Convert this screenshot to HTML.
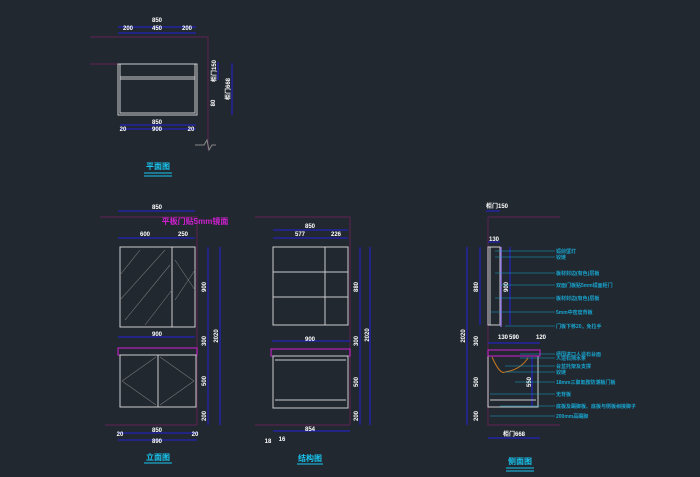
<!DOCTYPE html>
<html><head><meta charset="utf-8"><style>
html,body{margin:0;padding:0;background:#212830;}
svg{display:block}
text{font-family:"Liberation Sans","Noto Sans CJK SC",sans-serif;font-weight:bold;}
</style></head><body>
<svg width="700" height="477" viewBox="0 0 700 477" xmlns="http://www.w3.org/2000/svg">
<rect width="700" height="477" fill="#212830"/>
<g fill="#fff" font-size="6" text-anchor="middle">
<!-- PLAN -->
<g stroke="#4e2448" stroke-width="1.4" fill="none">
<path d="M90 37H208V150"/><path d="M90 64H118"/>
</g>
<g stroke="#2222dd" stroke-width="1" fill="none">
<path d="M118 27H196M118 33H196M120 125H196M120 129H196M232 63V115M218 62V80"/>
</g>
<text x="157" y="22">850</text><text x="128" y="30">200</text><text x="157" y="30">450</text><text x="187" y="30">200</text>
<g stroke="#ccc" stroke-width="1" fill="none">
<rect x="118" y="64" width="79" height="51"/><rect x="120" y="64" width="75" height="49"/>
<path d="M120 77H195M120 79H195"/>
</g>
<text x="157" y="124">850</text><text x="157" y="131">900</text>
<text x="123" y="131">20</text><text x="191" y="131">20</text>
<text x="0" y="0" transform="translate(216 71) rotate(-90)">柜门150</text>
<text x="0" y="0" transform="translate(230 89) rotate(-90)">柜门668</text>
<text x="0" y="0" transform="translate(215 103) rotate(-90)">80</text>
<path d="M195 145H204L207 140L209 150L212 145H216" stroke="#888" fill="none"/>
<text x="158" y="169" fill="#19c6f0" font-size="8">平面图</text>
<path d="M144 173H172M144 176H172" stroke="#19c6f0"/>

<!-- FRONT -->
<g stroke="#4e2448" stroke-width="1.4" fill="none"><path d="M100 217H197V425M105 425H197"/></g>
<g stroke="#2222dd" fill="none">
<path d="M118 211H195M118 238H195M118 337H195M208 247V425M220 247V425M118 433H197M118 440H197"/>
</g>
<text x="157" y="209">850</text><text x="145" y="236">600</text><text x="183" y="236">250</text>
<text x="195" y="224" fill="#d020d0" font-size="8">平板门贴5mm镜面</text>
<g stroke="#ccc" fill="none"><rect x="120" y="247" width="75" height="80"/><path d="M172 247V327"/></g>
<g stroke="#777" stroke-width=".6"><path d="M120 275L140 250M120 300L165 250M125 320L170 265M145 325L172 290M175 260L195 290M175 300L195 270"/></g>
<text x="157" y="336">900</text>
<rect x="118" y="348" width="79" height="7" fill="none" stroke="#d020d0"/>
<g stroke="#ccc" fill="none"><rect x="120" y="355" width="76" height="52"/><path d="M158 355V407"/></g>
<g stroke="#777" stroke-width=".6" fill="none"><path d="M122 381L156 357M122 381L156 405M194 381L160 357M194 381L160 405"/></g>
<text transform="translate(206 287) rotate(-90)">900</text>
<text transform="translate(206 341) rotate(-90)">300</text>
<text transform="translate(206 381) rotate(-90)">500</text>
<text transform="translate(206 416) rotate(-90)">200</text>
<text transform="translate(218 336) rotate(-90)">2020</text>
<text x="157" y="432">850</text><text x="157" y="443">890</text>
<text x="120" y="436">20</text><text x="195" y="436">20</text>
<text x="158" y="460" fill="#19c6f0" font-size="8">立面图</text>

<!-- STRUCTURE -->
<g stroke="#4e2448" stroke-width="1.4" fill="none"><path d="M255 217H350V425M255 425H350"/></g>
<g stroke="#2222dd" fill="none"><path d="M273 230H348M273 238H348M272 341H350M360 247V425M370 247V425M273 431H350"/></g>
<text x="310" y="228">850</text><text x="300" y="236">577</text><text x="336" y="236">226</text>
<g stroke="#ccc" fill="none"><rect x="273" y="247" width="75" height="78"/><path d="M325 247V325M273 272H348M273 297H348"/></g>
<text x="310" y="341">900</text>
<rect x="271" y="349" width="79" height="7" fill="none" stroke="#d020d0"/>
<g stroke="#ccc" fill="none"><rect x="273" y="356" width="75" height="52"/><path d="M275 400H346M275 360H346"/></g>
<text transform="translate(358 287) rotate(-90)">880</text>
<text transform="translate(358 341) rotate(-90)">300</text>
<text transform="translate(358 382) rotate(-90)">500</text>
<text transform="translate(358 416) rotate(-90)">200</text>
<text transform="translate(369 335) rotate(-90)">2020</text>
<text x="310" y="431">854</text><text x="268" y="443">18</text><text x="282" y="441">16</text>
<text x="310" y="461" fill="#19c6f0" font-size="8">结构图</text>

<!-- SIDE -->
<g stroke="#4e2448" stroke-width="1.4" fill="none"><path d="M488 217H560M488 217V425H560"/></g>
<g stroke="#2222dd" fill="none"><path d="M486 211H500M488 242H500M480 247V325M510 247V325M467 247V425M488 343H540M532 357V407M488 438H540"/></g>
<text x="497" y="208">柜门150</text><text x="494" y="241">130</text>
<text transform="translate(478 287) rotate(-90)">880</text>
<text transform="translate(508 287) rotate(-90)">900</text>
<text transform="translate(478 341) rotate(-90)">300</text>
<text transform="translate(478 382) rotate(-90)">500</text>
<text transform="translate(478 416) rotate(-90)">200</text>
<text transform="translate(465 336) rotate(-90)">2020</text>
<text transform="translate(531 382) rotate(-90)">550</text>
<text x="503" y="339">130</text><text x="514" y="339">590</text><text x="541" y="339">120</text>
<g stroke="#ccc" fill="none"><rect x="488" y="247" width="12" height="78"/><path d="M490 247V325"/><rect x="488" y="356" width="50" height="51"/><path d="M490 400H536"/></g>
<path d="M501 247V327" stroke="#8c6cdc" stroke-width="1.5"/>
<rect x="488" y="350" width="52" height="6" fill="none" stroke="#d020d0"/>
<path d="M492 357Q500 375 505 372Q520 370 528 358" stroke="#c87820" fill="none"/>
<g stroke="#19a6d0" stroke-width=".6"><path d="M495 251H555M495 257H555M495 273H555M500 285H555M495 298H555M490 312H555M505 326H555M520 354H555M520 358H555M505 366H555M505 372H555M515 382H555M490 394H555M500 406H555M490 416H555"/></g>
<g fill="#19a6d0" font-size="5" text-anchor="start" style="font-weight:normal">
<text x="556" y="253">镜前壁灯</text><text x="556" y="259">铰链</text>
<text x="556" y="275">板材封边(有色)层板</text><text x="556" y="287">双面门板贴5mm镜面柜门</text>
<text x="556" y="300">板材封边(有色)层板</text><text x="556" y="314">5mm中密度背板</text>
<text x="556" y="328">门板下移20，免拉手</text><text x="556" y="356">德国进口人造石台面</text>
<text x="556" y="360">人造石挡水条</text><text x="556" y="368">台盆托架及支撑</text>
<text x="556" y="374">铰链</text><text x="556" y="384">18mm三聚氰胺防潮板门板</text>
<text x="556" y="396">无背板</text><text x="556" y="408">底板及踢脚板、底板与侧板相接脚子</text>
<text x="556" y="418">200mm高踢脚</text>
</g>
<text x="514" y="436">柜门668</text>
<text x="520" y="464" fill="#19c6f0" font-size="8">侧面图</text>
<path d="M506 468H534M506 471H534" stroke="#19c6f0"/>
<path d="M144 463H172M297 464H323" stroke="#19c6f0"/>
</g>
</svg>
</body></html>
